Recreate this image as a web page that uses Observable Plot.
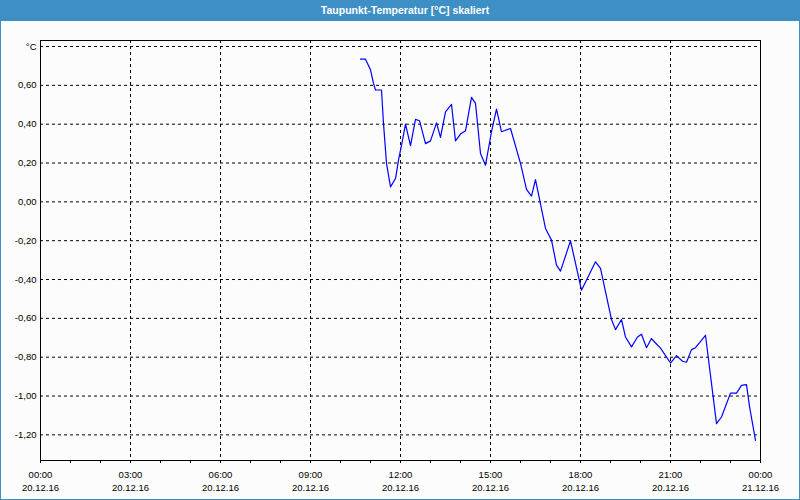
<!DOCTYPE html>
<html><head><meta charset="utf-8">
<script src="https://cdn.jsdelivr.net/npm/d3@7"></script>
<script src="https://cdn.jsdelivr.net/npm/@observablehq/plot@0.6"></script>
<style>
html,body{margin:0;padding:0;background:#fbfcfb;}
#wrap{position:relative;width:800px;height:500px;overflow:hidden;background:#fbfcfb;}
#title{position:absolute;left:0;top:0;width:800px;height:21px;background:#3d8fc6;color:#fff;font:bold 10.5px "Liberation Sans",Arial,sans-serif;text-align:center;line-height:20px;box-sizing:border-box;padding-left:10px;}
#chart{position:absolute;left:0;top:21px;}
#border{position:absolute;left:0;top:0;width:800px;height:500px;box-sizing:border-box;border:1px solid #3d8fc6;border-top:none;pointer-events:none;}
</style>
</head><body>
<div id="wrap">
  <div id="title">Taupunkt-Temperatur [°C] skaliert</div>
  <div id="chart"></div>
  <div id="border"></div>
</div>
<script>
// Measurement times (20.12.16) and dew point values [°C]
const times = ["10:40","10:50","11:00","11:06","11:10","11:22","11:26","11:32","11:40","11:50","11:56","12:04","12:10","12:20","12:30","12:38","12:50","13:00","13:12","13:20","13:30","13:42","13:50","14:00","14:10","14:22","14:30","14:40","14:50","15:02","15:12","15:22","15:40","16:00","16:12","16:22","16:30","16:50","17:02","17:12","17:20","17:40","18:02","18:30","18:40","19:02","19:10","19:22","19:30","19:42","19:54","20:02","20:12","20:22","20:30","20:40","21:00","21:12","21:24","21:32","21:42","21:50","22:10","22:32","22:42","23:00","23:12","23:22","23:32","23:38","23:50"];
const values = [0.735,0.735,0.68,0.61,0.576,0.576,0.404,0.198,0.077,0.12,0.215,0.318,0.40,0.29,0.425,0.418,0.30,0.314,0.407,0.332,0.464,0.502,0.314,0.349,0.366,0.538,0.507,0.249,0.189,0.361,0.478,0.361,0.378,0.198,0.064,0.029,0.115,-0.137,-0.197,-0.326,-0.357,-0.201,-0.455,-0.309,-0.343,-0.606,-0.658,-0.606,-0.696,-0.747,-0.696,-0.682,-0.751,-0.704,-0.727,-0.753,-0.830,-0.792,-0.821,-0.826,-0.761,-0.751,-0.687,-1.142,-1.108,-0.985,-0.985,-0.945,-0.941,-1.053,-1.228];

const yTicks = [-1.2,-1.0,-0.8,-0.6,-0.4,-0.2,0.0,0.2,0.4,0.6,0.8];
const yTickLabels = ["-1,20","-1,00","-0,80","-0,60","-0,40","-0,20","0,00","0,20","0,40","0,60","°C"];
const xTickHours = [0,3,6,9,12,15,18,21,24];
const xTimeLabels = ["00:00","03:00","06:00","09:00","12:00","15:00","18:00","21:00","00:00"];
const xDateLabels = ["20.12.16","20.12.16","20.12.16","20.12.16","20.12.16","20.12.16","20.12.16","20.12.16","21.12.16"];

const day = (h, m = 0) => new Date(Date.UTC(2016, 11, 20, h, m));
const data = times.map((t, i) => ({date: day(+t.slice(0, 2), +t.slice(3)), value: values[i]}));
const majorDates = xTickHours.map(h => day(h));
const hourDates = d3.range(0, 25).map(h => day(h));
const innerMajor = majorDates.slice(1, -1);

const chart = Plot.plot({
  width: 800,
  height: 479,
  marginTop: 19,
  marginBottom: 40,
  marginLeft: 40,
  marginRight: 40,
  style: {background: "transparent", fontFamily: "'Liberation Sans', Arial, sans-serif", fontSize: "9.5px", color: "#000"},
  x: {type: "utc", domain: [day(0), day(24)], axis: null, label: null},
  y: {domain: [-1.332, 0.831], axis: null, label: null},
  marks: [
    Plot.ruleY(yTicks, {stroke: "#000", strokeDasharray: "3,3"}),
    Plot.ruleX(innerMajor, {stroke: "#000", strokeDasharray: "3,3"}),
    Plot.line(data, {x: "date", y: "value", stroke: "#0000ff", strokeWidth: 1.2}),
    Plot.frame({stroke: "#000"}),
    Plot.axisY(yTicks, {tickSize: 0, tickPadding: 4, label: null, tickFormat: d => yTickLabels[yTicks.indexOf(d)]}),
    Plot.axisX(hourDates, {tickSize: 3, label: null, tickFormat: () => ""}),
    Plot.axisX(majorDates, {tickSize: 0, tickPadding: 10.5, label: null, tickFormat: d => xTimeLabels[majorDates.findIndex(m => +m === +d)]}),
    Plot.axisX(majorDates, {tickSize: 0, tickPadding: 24, label: null, tickFormat: d => xDateLabels[majorDates.findIndex(m => +m === +d)]})
  ]
});
document.getElementById("chart").appendChild(chart);
</script>
</body></html>
